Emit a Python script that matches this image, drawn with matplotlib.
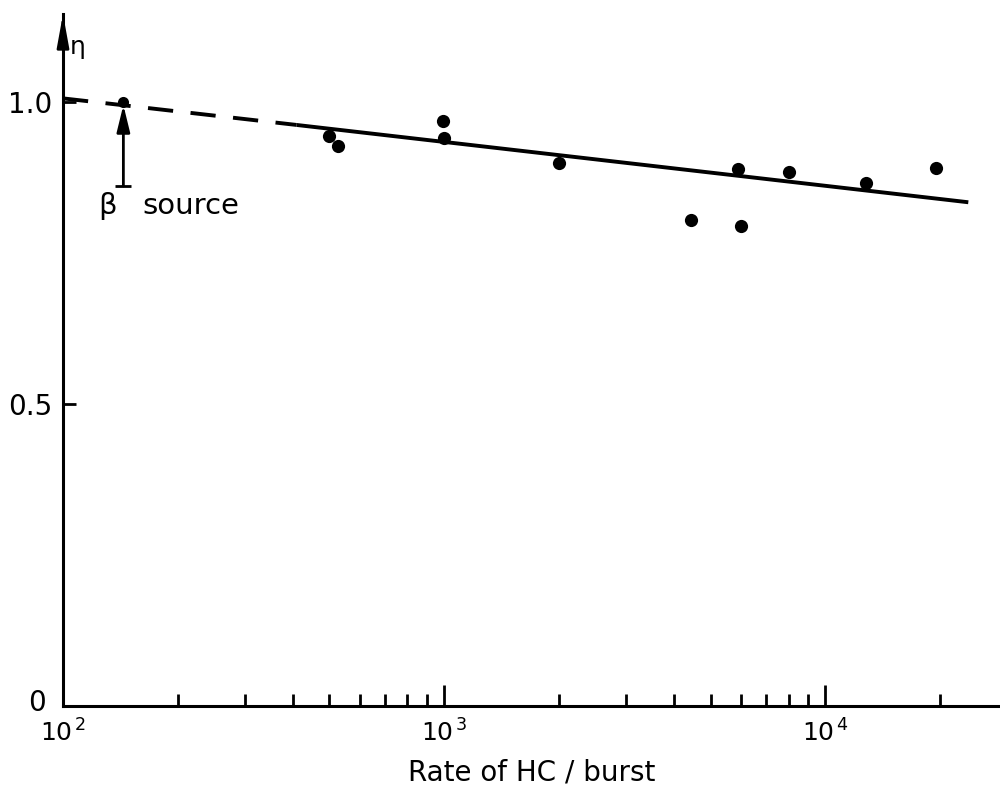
import matplotlib
matplotlib.use("Agg")
import matplotlib.pyplot as plt
from matplotlib.ticker import FixedLocator, LogLocator, NullFormatter
from matplotlib.transforms import ScaledTranslation

# ---- data ----
rate = [500, 525, 990, 1000, 2000, 4450, 5900, 6000, 8000, 12800, 19500]
eta = [0.944, 0.927, 0.969, 0.940, 0.899, 0.805, 0.889, 0.795, 0.884, 0.866, 0.891]

source_rate = [144]
source_eta = [1.0]
source_arrow_from = 0.861

fit_dashed_x = [100, 410]
fit_dashed_y = [1.006, 0.962]
fit_solid_x = [410, 23700]
fit_solid_y = [0.962, 0.834]

ytick_vals = [0, 0.5, 1.0]
ytick_labels = ["0", "0.5", "1.0"]
xtick_vals = [1e2, 1e3, 1e4]
xtick_labels = [r"10$^{\,2}$", r"10$^{\,3}$", r"10$^{\,4}$"]

plt.rcParams['font.family'] = ['DejaVu Sans']
fig = plt.figure(figsize=(10, 7.92), dpi=100)
ax = fig.add_axes([0.063, 86/792, 0.937, (792 - 86 - 14) / 792])

ax.set_xscale('log')
ax.set_xlim(100, 2.87e4)
ax.set_ylim(0, (706 - 14) / 604)

# fit line
ax.plot(fit_dashed_x, fit_dashed_y, color='black', lw=2.8, dashes=(6.5, 4.5),
        solid_capstyle='butt')
ax.plot(fit_solid_x, fit_solid_y, color='black', lw=2.8, solid_capstyle='butt')

# data points
ax.plot(rate, eta, 'o', color='black', ms=9.5, mew=0)
ax.plot(source_rate, source_eta, 'o', color='black', ms=8, mew=0)

# beta source arrow
ax.annotate('', xy=(source_rate[0], source_eta[0] - 0.005),
            xytext=(source_rate[0], source_arrow_from),
            arrowprops=dict(arrowstyle='-|>,head_width=0.22,head_length=0.9',
                            color='black', lw=2, mutation_scale=18,
                            shrinkA=0, shrinkB=0))
ax.plot(source_rate, [source_arrow_from], marker='_', color='black', ms=11, mew=2)
ax.text(123.5, 0.828, "β", fontsize=21, ha='left', va='center')
ax.text(162, 0.828, "source", fontsize=21, ha='left', va='center')

# spines
for s in ['top', 'right']:
    ax.spines[s].set_visible(False)
ax.spines['left'].set_linewidth(2.2)
ax.spines['bottom'].set_linewidth(2.2)

# y axis arrow
ax.annotate('', xy=(0, 1.0), xycoords='axes fraction',
            xytext=(0, 0.95), textcoords='axes fraction',
            arrowprops=dict(arrowstyle='-|>,head_width=0.2,head_length=1.1',
                            color='black', lw=2, mutation_scale=18,
                            shrinkA=0, shrinkB=0), annotation_clip=False)

ax.yaxis.set_major_locator(FixedLocator(ytick_vals))
ax.set_yticklabels(ytick_labels)
ax.xaxis.set_major_locator(FixedLocator(xtick_vals))
ax.set_xticklabels(xtick_labels)
ax.xaxis.set_minor_locator(LogLocator(base=10, subs=range(2, 10)))
ax.xaxis.set_minor_formatter(NullFormatter())

ax.tick_params(axis='y', direction='in', length=9, width=2, labelsize=20, pad=8)
ax.tick_params(axis='x', which='major', direction='in', length=15, width=2,
               labelsize=18, pad=10)
ax.tick_params(axis='x', which='minor', direction='in', length=9, width=2)

# lift the "0" label a little so it sits above the 10^2 label
zero_lbl = ax.get_yticklabels()[0]
zero_lbl.set_transform(zero_lbl.get_transform() +
                       ScaledTranslation(-4 / 72, 4 / 72, fig.dpi_scale_trans))

ax.set_xlabel("Rate of HC / burst", fontsize=20, labelpad=8)
fig.text(70 / 1000, 1 - 47 / 792, "η", fontsize=18, ha='left', va='center')

fig.savefig("out.png", dpi=100)
